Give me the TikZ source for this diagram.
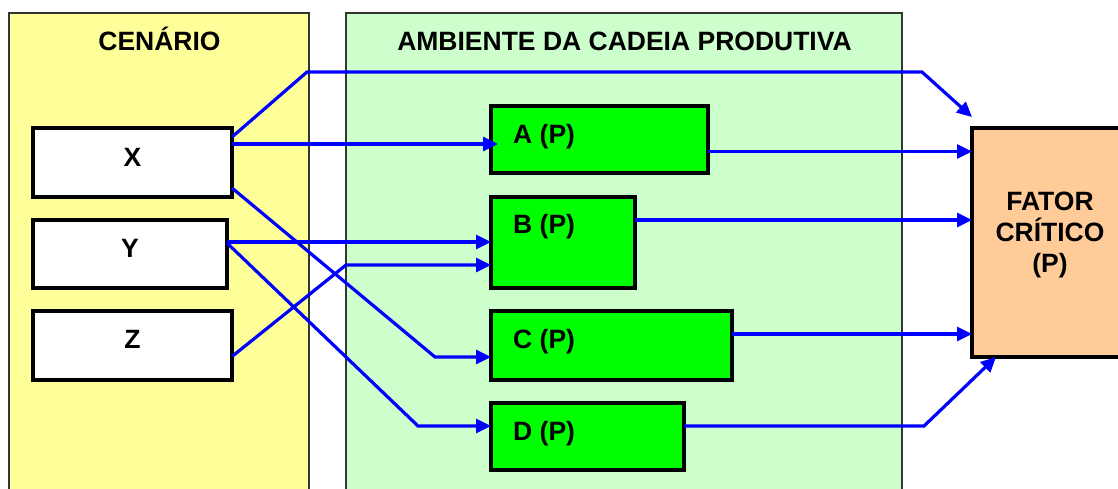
\documentclass[tikz,border=0pt]{standalone}
\usepackage{fontspec}
\setmainfont{Liberation Sans}
\usetikzlibrary{arrows.meta,calc}
\definecolor{yellowp}{HTML}{FFFF99}
\definecolor{greenp}{HTML}{CCFFCC}
\definecolor{greenbox}{HTML}{00FF00}
\definecolor{peach}{HTML}{FFCC99}
\definecolor{bluel}{HTML}{0000FF}
\tikzset{
  panel/.style={draw=black!80, line width=1.5pt, inner sep=0, outer sep=0},
  wbox/.style={draw=black, line width=3.2pt, fill=white, inner sep=0, outer sep=0},
  gbox/.style={draw=black, line width=3.2pt, fill=greenbox, inner sep=0, outer sep=0},
  fbox/.style={draw=black, line width=4.5pt, fill=peach, inner sep=0, outer sep=0},
  lbl/.style={font=\bfseries\fontsize{26.5}{31}\selectfont, inner sep=0, text height=19pt, text depth=0pt},
  arr/.style={draw=bluel, line width=3.2pt, -{Triangle[length=15pt,width=14pt]}}
}
\begin{document}
\begin{tikzpicture}[x=1pt,y=-1pt]
\useasboundingbox (0,0) rectangle (1118,488);
\clip (0,0) rectangle (1118,488);
\fill[white] (0,0) rectangle (1118,488);
% panels
\node[panel, fill=yellowp, minimum width=300pt, minimum height=497pt] (cen) at (159,261.5) {};
\node[panel, fill=greenp, minimum width=556pt, minimum height=497pt] (amb) at (624,261.5) {};
\node[lbl] (tcen) at (159.5,41) {CENÁRIO};
\node[lbl] (tamb) at (624.5,41) {AMBIENTE DA CADEIA PRODUTIVA};
% scenario boxes
\node[wbox, minimum width=199pt, minimum height=69pt] (x) at (132.5,162.5) {};
\node[wbox, minimum width=194pt, minimum height=68pt] (y) at (130,254) {};
\node[wbox, minimum width=199pt, minimum height=69pt] (z) at (132.5,345.5) {};
\node[lbl] (tx) at (132.5,157) {X};
\node[lbl] (ty) at (130,248) {Y};
\node[lbl] (tz) at (132.5,339) {Z};
% chain boxes
\node[gbox, minimum width=217pt, minimum height=67pt] (a) at (599.5,139.5) {};
\node[gbox, minimum width=144pt, minimum height=91pt] (b) at (563,242.5) {};
\node[gbox, minimum width=241pt, minimum height=69pt] (c) at (611.5,345.5) {};
\node[gbox, minimum width=193pt, minimum height=67pt] (d) at (587.5,436.5) {};
\node[lbl, anchor=west] (ta) at (513,133.5) {A (P)};
\node[lbl, anchor=west] (tb) at (513,224) {B (P)};
\node[lbl, anchor=west] (tc) at (513,339) {C (P)};
\node[lbl, anchor=west] (td) at (513,431) {D (P)};
% critical factor
\node[fbox, minimum width=160pt, minimum height=229pt] (f) at (1052,242.5) {};
\node[lbl, align=center, text height=, text depth=] (tf) at (1050,235) {FATOR\\CRÍTICO\\(P)};
% connectors
\draw[arr] ($(x.north east)+(0,9)$) -- (307,72) -- (922,72) -- ($(f.north west)+(0,-11)$);
\draw[arr] ($(x.north east)+(0,16)$) -- ($(a.north west)+(7,38)$);
\draw[arr] ($(x.south east)+(0,-9)$) -- ($(c.west)+(-56,11.5)$) -- ($(c.west)+(0,11.5)$);
\draw[arr] ($(y.north east)+(0,22)$) -- ($(b.north west)+(0,45)$);
\draw[arr] ($(y.north east)+(0,23)$) -- ($(d.west)+(-73,-10.5)$) -- ($(d.west)+(0,-10.5)$);
\draw[arr] ($(z.east)+(0,11)$) -- ($(b.north west)+(-145,68)$) -- ($(b.north west)+(0,68)$);
\draw[arr] ($(a.east)+(0,12)$) coordinate (aa) -- (aa -| f.west);
\draw[arr] ($(b.east)+(0,-22.5)$) coordinate (bb) -- (bb -| f.west);
\draw[arr] ($(c.east)+(0,-11.5)$) coordinate (cc) -- (cc -| f.west);
\draw[arr] ($(d.east)+(0,-10.5)$) -- (924,426) -- ($(f.south west)+(24,0)$);
\end{tikzpicture}
\end{document}
